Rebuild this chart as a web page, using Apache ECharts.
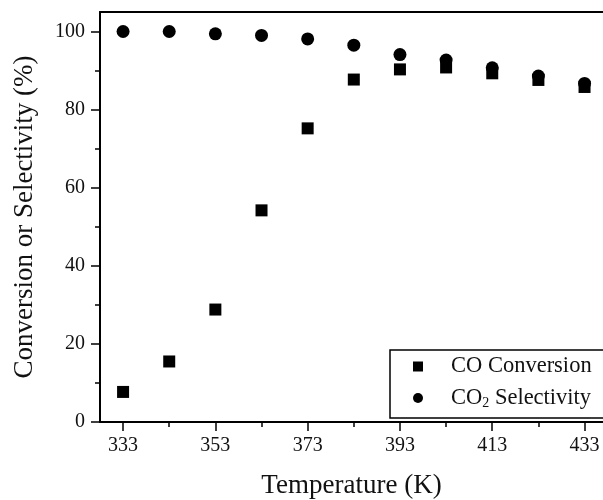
<!DOCTYPE html>
<html>
<head>
<meta charset="utf-8">
<script src="https://cdn.jsdelivr.net/npm/echarts@6/dist/echarts.min.js"></script>
<style>
  html, body { margin: 0; padding: 0; background: #fff; }
  #chart { width: 603px; height: 500px; }
</style>
</head>
<body>
<div id="chart"></div>
<script>
// data
const temperatures = [333, 343, 353, 363, 373, 383, 393, 403, 413, 423, 433]
const coConversion = [7.7, 15.5, 28.8, 54.2, 75.2, 87.7, 90.3, 90.8, 89.3, 87.6, 85.8]
const co2Selectivity = [100, 100, 99.4, 99.0, 98.1, 96.5, 94.1, 92.7, 90.7, 88.6, 86.7]

const xMajorTicks = [333, 353, 373, 393, 413, 433]
const xMinorTicks = [343, 363, 383, 403, 423]
const yMajorTicks = [0, 20, 40, 60, 80, 100]
const yMinorTicks = [10, 30, 50, 70, 90]

const font = '"Liberation Serif", "Times New Roman", serif'
const ink = '#000'

const chart = echarts.init(document.getElementById('chart'))

function pairs(ys) {
  return temperatures.map((t, i) => [t, ys[i]])
}

const xBase = { type: 'value', min: 328, max: 437, splitLine: { show: false } }
const yBase = { type: 'value', min: 0, max: 105, splitLine: { show: false } }

chart.setOption({
  animation: false,
  grid: { left: 100, top: 12, right: 0, bottom: 78, outerBoundsMode: 'none', containLabel: false },
  xAxis: [
    Object.assign({}, xBase, {
      position: 'bottom',
      name: 'Temperature (K)',
      nameLocation: 'middle',
      nameGap: 50,
      nameTextStyle: { fontFamily: font, fontSize: 27, color: '#111' },
      axisLine: { lineStyle: { color: ink, width: 2 } },
      axisTick: { customValues: xMajorTicks, length: 9, lineStyle: { color: ink, width: 1.5 } },
      axisLabel: { customValues: xMajorTicks, margin: 14, fontFamily: font, fontSize: 20, color: '#111' }
    }),
    Object.assign({}, xBase, {
      position: 'bottom',
      axisLine: { show: false },
      axisTick: { customValues: xMinorTicks, length: 5, lineStyle: { color: ink, width: 1.5 } },
      axisLabel: { show: false }
    }),
    Object.assign({}, xBase, {
      position: 'top',
      axisLine: { lineStyle: { color: ink, width: 2 } },
      axisTick: { show: false },
      axisLabel: { show: false }
    })
  ],
  yAxis: [
    Object.assign({}, yBase, {
      position: 'left',
      name: 'Conversion or Selectivity (%)',
      nameLocation: 'middle',
      nameGap: 62,
      nameTextStyle: { fontFamily: font, fontSize: 27, color: '#111' },
      axisLine: { show: true, lineStyle: { color: ink, width: 2 } },
      axisTick: { show: true, customValues: yMajorTicks, length: 9, lineStyle: { color: ink, width: 1.5 } },
      axisLabel: { customValues: yMajorTicks, margin: 15, fontFamily: font, fontSize: 20, color: '#111' }
    }),
    Object.assign({}, yBase, {
      position: 'left',
      axisLine: { show: false },
      axisTick: { show: true, customValues: yMinorTicks, length: 5, lineStyle: { color: ink, width: 1.5 } },
      axisLabel: { show: false }
    })
  ],
  legend: {
    left: 390,
    top: 350,
    orient: 'vertical',
    padding: [5, 30, 8, 23],
    itemWidth: 10,
    itemHeight: 10,
    itemGap: 6,
    borderColor: ink,
    borderWidth: 1.5,
    data: [
      { name: 'CO Conversion', icon: 'rect', itemStyle: { opacity: 1 } },
      { name: 'CO2 Selectivity', icon: 'circle', itemStyle: { opacity: 1 } }
    ],
    formatter: function(name) {
      if (name === 'CO2 Selectivity') {
        return '{f|CO}{s|2}{n| Selectivity}'
      }
      return '{f|' + name + '}'
    },
    textStyle: {
      color: '#111',
      rich: {
        f: { fontFamily: font, fontSize: 22.5, lineHeight: 24, padding: [0, 0, 0, 23], color: '#111' },
        n: { fontFamily: font, fontSize: 22.5, lineHeight: 24, color: '#111' },
        s: { fontFamily: font, fontSize: 14, lineHeight: 24, verticalAlign: 'bottom', padding: [12, 0, 0, 0], color: '#111' }
      }
    }
  },
  series: [
    {
      name: 'CO Conversion',
      type: 'scatter',
      symbol: 'rect',
      symbolSize: 12,
      itemStyle: { color: ink, opacity: 1 },
      data: pairs(coConversion)
    },
    {
      name: 'CO2 Selectivity',
      type: 'scatter',
      symbol: 'circle',
      symbolSize: 13,
      itemStyle: { color: ink, opacity: 1 },
      data: pairs(co2Selectivity)
    }
  ]
})
</script>
</body>
</html>
